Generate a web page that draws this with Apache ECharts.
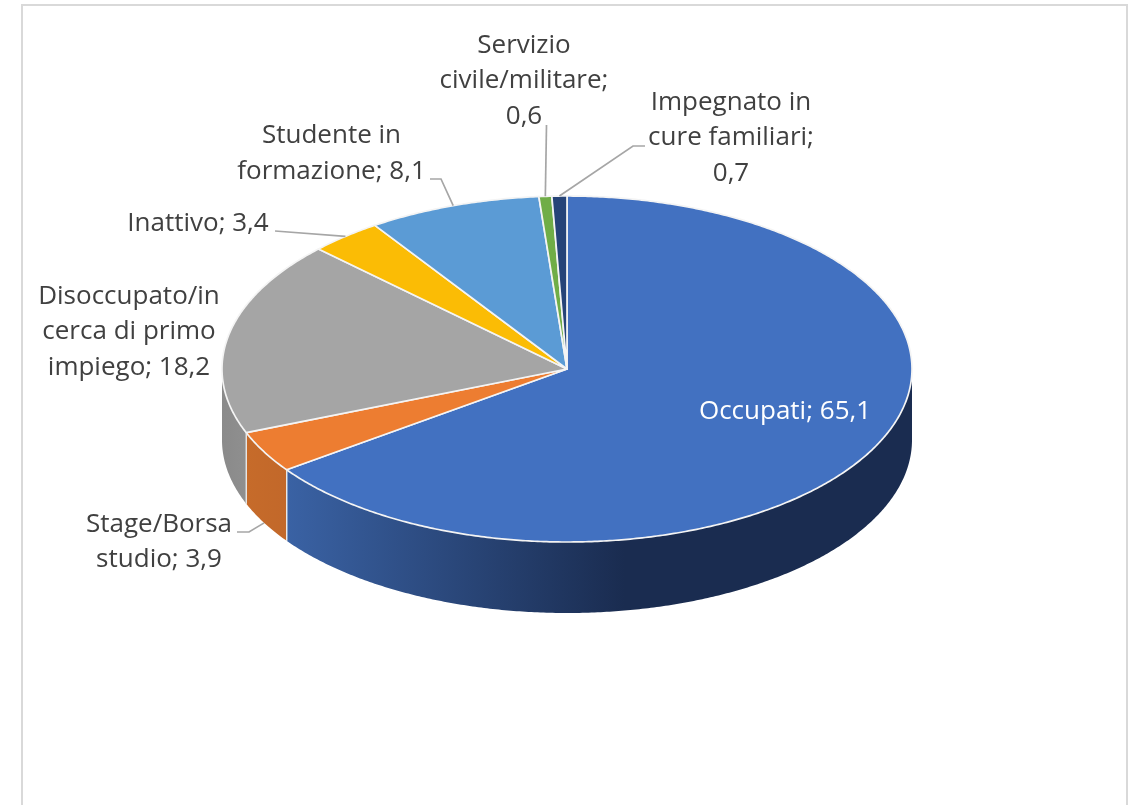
<!DOCTYPE html>
<html>
<head>
<meta charset="utf-8">
<style>html,body{margin:0;padding:0;background:#fff;overflow:hidden}#c{width:1133px;height:805px}</style>
<script src="https://cdn.jsdelivr.net/npm/echarts@6/dist/echarts.min.js"></script>
</head>
<body>
<div id="c"></div>
<script>
// Data
const categories = ['Occupati','Stage/Borsa studio','Disoccupato/in cerca di primo impiego','Inattivo','Studente in formazione','Servizio civile/militare','Impegnato in cure familiari'];
const values = [65.1,3.9,18.2,3.4,8.1,0.6,0.7];
const labelTemplates = ['Occupati; {v}','Stage/Borsa\nstudio; {v}','Disoccupato/in\ncerca di primo\nimpiego; {v}','Inattivo; {v}','Studente in\nformazione; {v}','Servizio\ncivile/militare;\n{v}','Impegnato in\ncure familiari;\n{v}'];

// Styles and layout
const topColors = ['#4271c1','#ed7d31','#a5a5a5','#fbbc05','#5b9bd5','#70ad47','#264478'];
const wallColors = [
  {stops:[[0,'#3a62a4'],[0.54,'#1a2c50'],[1,'#1a2c50']]},
  {stops:[[0,'#c66b2a'],[1,'#c2682a']]},
  {stops:[[0,'#8a8a8a'],[1,'#8f8f8f']]},
  null,null,null,null
];
const CX=567, CY=369, RX=345, RY=173, DEPTH=71;
const labelPos = [[785,412],[159,542],[129,332],[198,224],[331.5,153.5],[524,81],[731,138]];
// Leader path from the label toward the slice: fixed points near the label, last point computed from the slice.
const leaders = [null,[[237,532],[249,532]],null,[[275,231]],[[430,179],[441,179]],[[546.5,125]],[[645,146],[633,146]]];
const FONT = '26px "Open Sans"';
const LINE_H = 35.5;

const total = values.reduce((a,b)=>a+b,0);
const cumStart = []; values.reduce((s,v,i)=>{cumStart[i]=s;return s+v;},0);
const seriesData = values.map((v,i)=>[v,cumStart[i]]);

function pt(t,dy){const a=t*Math.PI/180;return [CX+RX*Math.sin(a),CY-RY*Math.cos(a)+(dy||0)];}
function arc(t1,t2,dy){const n=Math.max(2,Math.ceil(Math.abs(t2-t1)*2));const r=[];for(let k=0;k<=n;k++)r.push(pt(t1+(t2-t1)*k/n,dy));return r;}

function renderItem(params,api){
  const i=params.dataIndex, v=api.value(0), s=api.value(1);
  const t1=s/total*360, t2=(s+v)/total*360, mid=(t1+t2)/2;
  const children=[];
  // outer side wall (only the front half of the ellipse shows it)
  const w1=Math.max(t1,90), w2=Math.min(t2,270);
  if(w2>w1 && wallColors[i]){
    const upper=arc(w1,w2,0), lower=arc(w2,w1,DEPTH);
    const stops=wallColors[i].stops.map(c=>({offset:c[0],color:c[1]}));
    // gradient runs from left to right of the wall
    children.push({type:'polygon',shape:{points:upper.concat(lower)},
      style:{fill:new echarts.graphic.LinearGradient(0,0,1,0,stops),stroke:null}});
    // light vertical seams at slice boundaries on the wall
    [t1,t2].forEach(t=>{ if(t>90 && t<270){const a=pt(t,0),b=pt(t,DEPTH);
      children.push({type:'line',shape:{x1:a[0],y1:a[1],x2:b[0],y2:b[1]},style:{stroke:'#e8e8e8',lineWidth:1.3}});}});
  }
  // top face
  children.push({type:'polygon',shape:{points:[[CX,CY]].concat(arc(t1,t2,0))},
    style:{fill:topColors[i],stroke:'#f4f4f4',lineWidth:1.7,lineJoin:'round'}});
  // leader line
  if(leaders[i]){
    const end=pt(mid,(mid>90&&mid<270)?DEPTH:0);
    children.push({type:'polyline',shape:{points:leaders[i].concat([end])},
      style:{stroke:'#a6a6a6',lineWidth:1.7,fill:null}});
  }
  // label
  const txt=labelTemplates[i].replace('{v}',String(v).replace('.',','));
  children.push({type:'text',z2:10,style:{text:txt,x:labelPos[i][0],y:labelPos[i][1],align:'center',verticalAlign:'middle',
    font:FONT,lineHeight:LINE_H,fill:i===0?'#ffffff':'#404040'}});
  return {type:'group',children};
}

const chart=echarts.init(document.getElementById('c'),null,{renderer:'canvas'});
chart.setOption({
  animation:false,
  backgroundColor:'#ffffff',
  graphic:[{type:'rect',z:-1,shape:{x:22,y:5,width:1105,height:900},style:{fill:'#fff',stroke:'#d9d9d9',lineWidth:2}}],
  series:[{type:'custom',coordinateSystem:'none',name:'Condizione',renderItem,
    data:seriesData,dimensions:['valore','inizio'],clip:false,silent:true}]
});
</script>
</body>
</html>
